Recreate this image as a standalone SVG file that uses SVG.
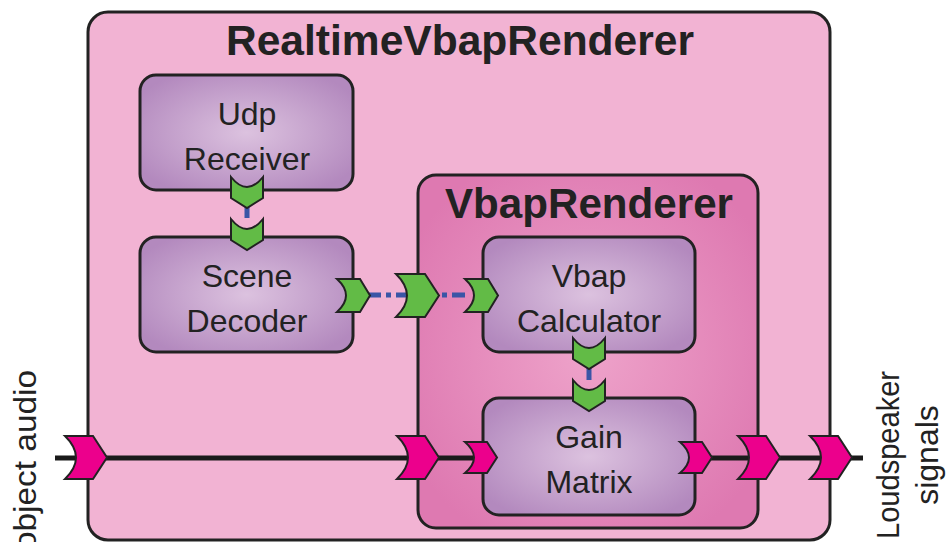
<svg xmlns="http://www.w3.org/2000/svg" width="946" height="542" viewBox="0 0 946 542">
<defs>
<radialGradient id="gPurple" cx="50%" cy="50%" r="60%">
<stop offset="0" stop-color="#dcc2df"/>
<stop offset="1" stop-color="#b389be"/>
</radialGradient>
<radialGradient id="gPink" cx="50%" cy="50%" r="60%">
<stop offset="0" stop-color="#eea3ca"/>
<stop offset="1" stop-color="#de79b1"/>
</radialGradient>
<path id="pBig" d="M0,0 L28,0 L42,21.5 L28,43 L0,43 Q22,21.5 0,0 Z"/>
<path id="pSmall" d="M0,0 L22,0 L32,15.5 L22,31 L0,31 Q18,15.5 0,0 Z"/>
<path id="pBigG" d="M0,0 L29,0 L43,21.5 L29,43 L0,43 Q22,21.5 0,0 Z"/>
<path id="pSmallG" d="M0,0 L23,0 L33,16.5 L23,33 L0,33 Q18,16.5 0,0 Z"/>
<path id="pDown" d="M0,0 Q16,20 32,0 L32,21 L16,31 L0,21 Z"/>
</defs>
<style>
.box{stroke:#222;stroke-width:3}
.outer{fill:#f2b3d3}
.sub{fill:url(#gPink)}
.inner{fill:url(#gPurple)}
.title{font-family:"Liberation Sans",Arial,sans-serif;font-weight:bold;font-size:42px;fill:#222;text-anchor:middle}
.lbl{font-family:"Liberation Sans",Arial,sans-serif;font-size:32px;fill:#222;text-anchor:middle}
.mag{fill:#ec008c;stroke:#222;stroke-width:2;stroke-linejoin:miter}
.grn{fill:#62bb46;stroke:#222;stroke-width:2;stroke-linejoin:miter}
.audio{stroke:#1a1a1a;stroke-width:5;fill:none}
.ctrl{stroke:#3a55a6;stroke-width:5;fill:none;stroke-dasharray:13 5 5 5}
</style>
<g id="RealtimeVbapRenderer">
<rect class="box outer" x="88" y="12" width="742" height="528" rx="20"/>
<text class="title" x="460" y="55" textLength="468" lengthAdjust="spacingAndGlyphs">RealtimeVbapRenderer</text>
</g>
<g id="VbapRenderer">
<rect class="box sub" x="418" y="175" width="340" height="353" rx="18"/>
<text class="title" x="589" y="218" textLength="288" lengthAdjust="spacingAndGlyphs">VbapRenderer</text>
</g>
<g id="connectors">
<line class="audio" x1="55" y1="458" x2="483" y2="458"/>
<line class="audio" x1="695" y1="458" x2="863" y2="458"/>
<line class="ctrl" x1="368" y1="295" x2="467" y2="295"/>
<line class="ctrl" x1="247" y1="205" x2="247" y2="221" stroke-dasharray="10 3 3 3"/>
<line class="ctrl" x1="589" y1="367" x2="589" y2="382" stroke-dasharray="9 3 3 3"/>
</g>
<g id="UdpReceiver">
<rect class="box inner" x="140" y="75" width="213" height="115" rx="16"/>
<text class="lbl" x="247" y="125">Udp</text>
<text class="lbl" x="247" y="170">Receiver</text>
</g>
<g id="SceneDecoder">
<rect class="box inner" x="140" y="237" width="213" height="115" rx="16"/>
<text class="lbl" x="247" y="287">Scene</text>
<text class="lbl" x="247" y="332">Decoder</text>
</g>
<g id="VbapCalculator">
<rect class="box inner" x="483" y="237" width="212" height="115" rx="16"/>
<text class="lbl" x="589" y="287">Vbap</text>
<text class="lbl" x="589" y="332">Calculator</text>
</g>
<g id="GainMatrix">
<rect class="box inner" x="483" y="398" width="212" height="117" rx="16"/>
<text class="lbl" x="589" y="448">Gain</text>
<text class="lbl" x="589" y="493">Matrix</text>
</g>
<g id="ports">
<use href="#pBig" class="mag" x="65" y="436"/>
<use href="#pBig" class="mag" x="397" y="436"/>
<use href="#pSmall" class="mag" x="465" y="442"/>
<use href="#pSmall" class="mag" x="680" y="442"/>
<use href="#pBig" class="mag" x="738" y="436"/>
<use href="#pBig" class="mag" x="810" y="436"/>
<use href="#pSmallG" class="grn" x="337" y="279"/>
<use href="#pBigG" class="grn" x="396" y="274"/>
<use href="#pSmallG" class="grn" x="465" y="279"/>
<use href="#pDown" class="grn" x="231" y="177"/>
<use href="#pDown" class="grn" x="231" y="219"/>
<use href="#pDown" class="grn" x="573" y="338"/>
<use href="#pDown" class="grn" x="573" y="380"/>
</g>
<g id="labels">
<text class="lbl" transform="translate(36,460) rotate(-90)" textLength="180" lengthAdjust="spacingAndGlyphs">object audio</text>
<text class="lbl" transform="translate(899,455) rotate(-90)" textLength="168" lengthAdjust="spacingAndGlyphs">Loudspeaker</text>
<text class="lbl" transform="translate(938,455) rotate(-90)">signals</text>
</g>
</svg>
